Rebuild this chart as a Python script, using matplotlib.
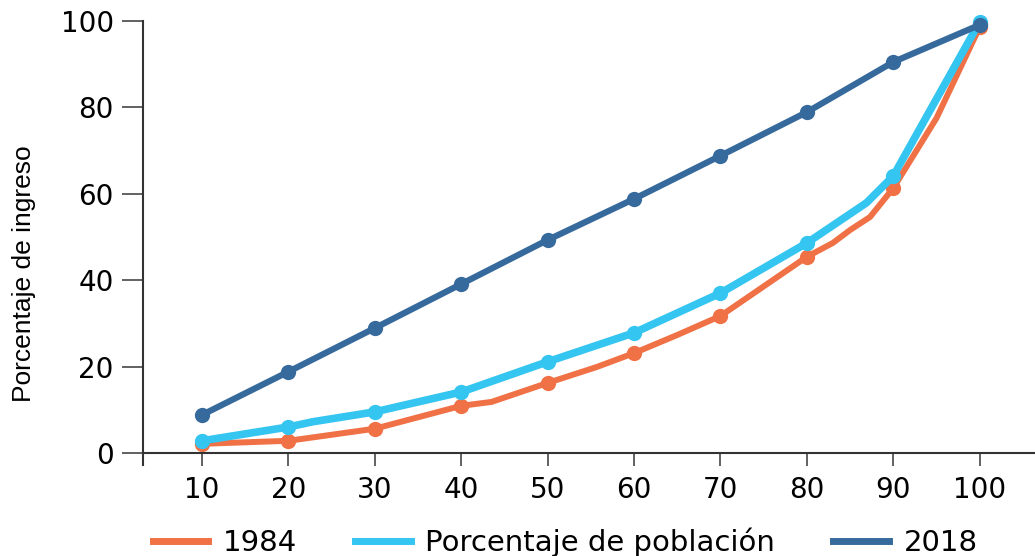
import matplotlib
matplotlib.use("Agg")
import matplotlib.pyplot as plt

# deciles of population (x) and cumulative share of income (y)
deciles = [10, 20, 30, 40, 50, 60, 70, 80, 90, 100]

y_1984 = [2.1, 2.8, 5.6, 10.9, 16.2, 23.1, 31.7, 45.4, 61.3, 98.6]
y_pob = [2.8, 6.0, 9.5, 14.1, 21.1, 27.8, 37.0, 48.6, 64.1, 99.8]
y_2018 = [8.8, 18.8, 28.9, 39.1, 49.3, 58.8, 68.8, 78.9, 90.5, 99.1]

# extra vertices of the drawn lines between deciles (no markers there)
x_1984_extra = [43.5, 55.7, 65.0, 83.0, 85.0, 87.3, 95.0]
y_1984_extra = [11.8, 19.9, 27.3, 48.6, 51.6, 54.6, 77.5]
x_pob_extra = [22.8, 86.9]
y_pob_extra = [7.2, 57.9]

labels = ["1984", "Porcentaje de población", "2018"]
colors = ["#f07145", "#35c5f1", "#376a9c"]


def merge(xs, ys, x_extra, y_extra):
    pts = sorted(zip(list(xs) + list(x_extra), list(ys) + list(y_extra)))
    return [p[0] for p in pts], [p[1] for p in pts]


fig = plt.figure(figsize=(10.35, 5.56), dpi=100)
ax = fig.add_axes([0.1382, 0.1637, 0.8618, 0.7986])

series = [
    (y_1984, x_1984_extra, y_1984_extra, 4.3),
    (y_pob, x_pob_extra, y_pob_extra, 5.5),
    (y_2018, [], [], 4.5),
]
for (ys, xe, ye, lw), col, lab in zip(series, colors, labels):
    lx, ly = merge(deciles, ys, xe, ye)
    ax.plot(lx, ly, color=col, lw=lw, solid_joinstyle="round",
            solid_capstyle="round", clip_on=False, label=lab)
    ax.plot(deciles, ys, "o", color=col, ms=11, mec="none", clip_on=False)

ax.set_xlim(3.17, 106.4)
ax.set_ylim(-2.8, 100)

ax.spines["top"].set_visible(False)
ax.spines["right"].set_visible(False)
ax.spines["bottom"].set_position(("data", 0))
for s in ("left", "bottom"):
    ax.spines[s].set_color("#333333")
    ax.spines[s].set_linewidth(1.5)

ax.set_xticks(deciles)
ax.set_yticks([0, 20, 40, 60, 80, 100])
ax.tick_params(axis="y", length=15, width=1.3, color="#555555", pad=6,
               labelsize=20, labelcolor="black")
ax.tick_params(axis="x", length=9, width=1.3, color="#555555", pad=8,
               labelsize=20, labelcolor="black")

fig.text(0.023, 0.507, "Porcentaje de ingreso", rotation=90, va="center",
         ha="center", fontsize=19,
         family=["Liberation Sans", "DejaVu Sans"])

leg_handles = [plt.Line2D([], [], color=c, lw=5) for c in colors]
fig.legend(leg_handles, labels, loc="center", ncol=3,
           bbox_to_anchor=(0.546, 0.024), frameon=False, fontsize=21,
           handlelength=1.9, handletextpad=0.5, columnspacing=2.0)

fig.savefig("out.png", dpi=100)
